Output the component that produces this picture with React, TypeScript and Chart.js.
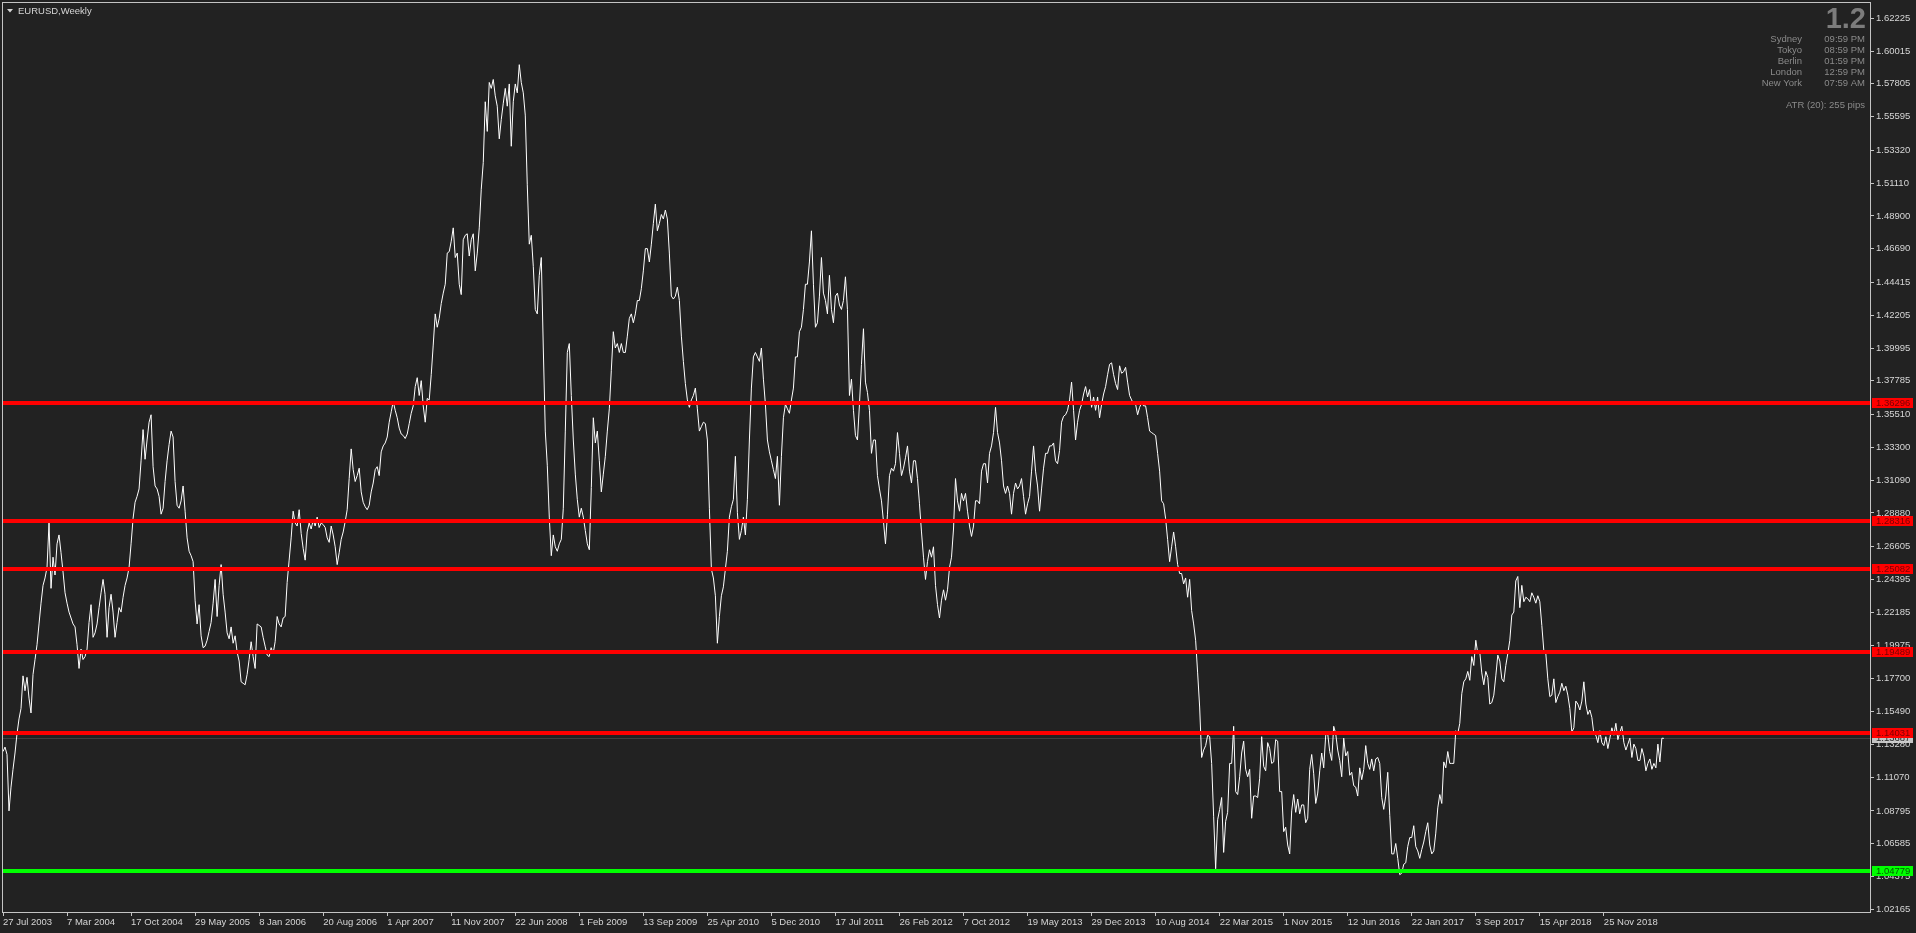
import React, { useEffect, useRef } from 'react';
import { Chart, registerables } from 'chart.js';

Chart.register(...registerables);

// Weekly closes, EURUSD (MT4 line chart), grouped by year
const close2003 = [1.128, 1.131, 1.126, 1.088, 1.104, 1.116, 1.127, 1.140, 1.150, 1.157, 1.179, 1.169, 1.178, 1.164, 1.154, 1.180, 1.190, 1.200, 1.214, 1.228, 1.240, 1.245, 1.252];
const close2004 = [1.282, 1.238, 1.259, 1.247, 1.268, 1.274, 1.262, 1.249, 1.235, 1.228, 1.222, 1.218, 1.214, 1.212, 1.200, 1.184, 1.197, 1.190, 1.192, 1.197, 1.215, 1.227, 1.205, 1.208, 1.214, 1.225, 1.235, 1.244, 1.234, 1.205, 1.225, 1.234, 1.222, 1.205, 1.215, 1.225, 1.222, 1.232, 1.240, 1.245, 1.252, 1.268, 1.285, 1.296, 1.300, 1.305, 1.324, 1.345, 1.325, 1.338, 1.350, 1.355];
const close2005 = [1.320, 1.307, 1.305, 1.300, 1.288, 1.292, 1.310, 1.324, 1.335, 1.344, 1.340, 1.310, 1.294, 1.292, 1.297, 1.307, 1.290, 1.272, 1.263, 1.260, 1.256, 1.230, 1.214, 1.227, 1.206, 1.198, 1.199, 1.203, 1.209, 1.215, 1.228, 1.244, 1.219, 1.240, 1.254, 1.234, 1.222, 1.208, 1.204, 1.212, 1.201, 1.206, 1.195, 1.189, 1.175, 1.174, 1.173, 1.180, 1.190, 1.202, 1.192, 1.184];
const close2006 = [1.214, 1.213, 1.212, 1.205, 1.199, 1.193, 1.192, 1.198, 1.194, 1.202, 1.219, 1.214, 1.212, 1.218, 1.219, 1.242, 1.257, 1.272, 1.290, 1.282, 1.280, 1.291, 1.275, 1.265, 1.257, 1.276, 1.282, 1.278, 1.284, 1.280, 1.286, 1.279, 1.282, 1.281, 1.279, 1.272, 1.269, 1.280, 1.274, 1.266, 1.254, 1.262, 1.271, 1.276, 1.283, 1.291, 1.312, 1.332, 1.318, 1.310, 1.314, 1.319];
const close2007 = [1.303, 1.296, 1.293, 1.291, 1.294, 1.303, 1.309, 1.318, 1.320, 1.314, 1.330, 1.334, 1.336, 1.340, 1.350, 1.357, 1.364, 1.358, 1.353, 1.346, 1.342, 1.341, 1.339, 1.342, 1.349, 1.356, 1.361, 1.374, 1.380, 1.368, 1.378, 1.361, 1.350, 1.366, 1.365, 1.382, 1.402, 1.423, 1.414, 1.420, 1.430, 1.437, 1.443, 1.464, 1.465, 1.472, 1.481, 1.461, 1.464, 1.443, 1.436, 1.473];
const close2008 = [1.476, 1.477, 1.462, 1.473, 1.477, 1.452, 1.464, 1.481, 1.507, 1.525, 1.566, 1.546, 1.579, 1.575, 1.581, 1.570, 1.563, 1.541, 1.554, 1.565, 1.575, 1.563, 1.578, 1.536, 1.566, 1.578, 1.572, 1.591, 1.579, 1.572, 1.557, 1.510, 1.470, 1.476, 1.455, 1.426, 1.423, 1.449, 1.461, 1.400, 1.344, 1.321, 1.286, 1.260, 1.274, 1.266, 1.263, 1.268, 1.271, 1.292, 1.344, 1.397];
const close2009 = [1.403, 1.368, 1.338, 1.315, 1.298, 1.286, 1.292, 1.286, 1.277, 1.268, 1.264, 1.306, 1.353, 1.336, 1.344, 1.324, 1.303, 1.315, 1.327, 1.344, 1.359, 1.385, 1.411, 1.400, 1.403, 1.397, 1.403, 1.397, 1.397, 1.408, 1.420, 1.423, 1.417, 1.423, 1.432, 1.432, 1.440, 1.452, 1.467, 1.467, 1.458, 1.470, 1.484, 1.497, 1.479, 1.484, 1.490, 1.487, 1.493, 1.487, 1.464, 1.435];
const close2010 = [1.433, 1.435, 1.441, 1.432, 1.408, 1.391, 1.376, 1.365, 1.360, 1.365, 1.368, 1.373, 1.359, 1.344, 1.347, 1.350, 1.349, 1.338, 1.292, 1.251, 1.245, 1.233, 1.201, 1.219, 1.233, 1.239, 1.251, 1.263, 1.286, 1.293, 1.298, 1.327, 1.289, 1.271, 1.277, 1.286, 1.274, 1.298, 1.338, 1.373, 1.394, 1.397, 1.394, 1.391, 1.400, 1.379, 1.362, 1.338, 1.330, 1.324, 1.318, 1.312];
const close2011 = [1.327, 1.294, 1.327, 1.353, 1.362, 1.359, 1.356, 1.365, 1.373, 1.394, 1.394, 1.411, 1.414, 1.426, 1.443, 1.443, 1.458, 1.479, 1.443, 1.414, 1.417, 1.435, 1.461, 1.437, 1.432, 1.423, 1.449, 1.426, 1.417, 1.435, 1.437, 1.429, 1.426, 1.432, 1.448, 1.426, 1.368, 1.379, 1.358, 1.341, 1.338, 1.362, 1.389, 1.413, 1.377, 1.370, 1.358, 1.329, 1.338, 1.338, 1.314, 1.305];
const close2012 = [1.297, 1.283, 1.268, 1.288, 1.314, 1.319, 1.317, 1.322, 1.343, 1.329, 1.314, 1.319, 1.326, 1.334, 1.317, 1.309, 1.324, 1.324, 1.312, 1.295, 1.276, 1.259, 1.244, 1.256, 1.264, 1.259, 1.266, 1.240, 1.227, 1.218, 1.230, 1.237, 1.230, 1.237, 1.252, 1.259, 1.278, 1.312, 1.297, 1.290, 1.302, 1.297, 1.302, 1.290, 1.280, 1.273, 1.280, 1.297, 1.297, 1.295, 1.317, 1.322];
const close2013 = [1.322, 1.309, 1.329, 1.334, 1.343, 1.360, 1.343, 1.336, 1.324, 1.307, 1.302, 1.307, 1.302, 1.288, 1.302, 1.309, 1.305, 1.307, 1.312, 1.300, 1.288, 1.295, 1.300, 1.317, 1.334, 1.317, 1.307, 1.290, 1.305, 1.319, 1.329, 1.329, 1.334, 1.334, 1.336, 1.324, 1.322, 1.331, 1.350, 1.354, 1.355, 1.358, 1.365, 1.377, 1.358, 1.338, 1.350, 1.358, 1.362, 1.369, 1.374, 1.367];
const close2014 = [1.372, 1.360, 1.367, 1.358, 1.367, 1.353, 1.362, 1.369, 1.374, 1.382, 1.389, 1.390, 1.382, 1.376, 1.372, 1.388, 1.383, 1.384, 1.387, 1.377, 1.368, 1.365, 1.362, 1.362, 1.355, 1.360, 1.363, 1.361, 1.361, 1.353, 1.344, 1.343, 1.342, 1.341, 1.329, 1.317, 1.297, 1.295, 1.285, 1.271, 1.256, 1.266, 1.276, 1.266, 1.254, 1.248, 1.248, 1.241, 1.245, 1.232, 1.244, 1.223];
const close2015 = [1.214, 1.203, 1.181, 1.158, 1.124, 1.129, 1.132, 1.139, 1.138, 1.120, 1.084, 1.049, 1.082, 1.089, 1.097, 1.060, 1.081, 1.087, 1.120, 1.120, 1.145, 1.101, 1.099, 1.111, 1.127, 1.135, 1.116, 1.111, 1.116, 1.083, 1.098, 1.098, 1.097, 1.110, 1.138, 1.118, 1.115, 1.134, 1.130, 1.120, 1.121, 1.136, 1.135, 1.101, 1.101, 1.074, 1.077, 1.065, 1.059, 1.088, 1.099, 1.087];
const close2016 = [1.096, 1.086, 1.092, 1.092, 1.080, 1.083, 1.116, 1.126, 1.113, 1.093, 1.100, 1.115, 1.127, 1.117, 1.139, 1.140, 1.128, 1.122, 1.145, 1.140, 1.129, 1.122, 1.111, 1.137, 1.125, 1.128, 1.112, 1.114, 1.105, 1.104, 1.098, 1.117, 1.109, 1.116, 1.132, 1.120, 1.116, 1.123, 1.115, 1.123, 1.124, 1.120, 1.097, 1.089, 1.098, 1.114, 1.085, 1.059, 1.059, 1.066, 1.056, 1.045];
const close2017 = [1.046, 1.052, 1.053, 1.064, 1.070, 1.070, 1.078, 1.064, 1.061, 1.056, 1.062, 1.067, 1.074, 1.080, 1.065, 1.059, 1.061, 1.073, 1.090, 1.099, 1.093, 1.121, 1.117, 1.128, 1.120, 1.120, 1.120, 1.142, 1.140, 1.147, 1.167, 1.175, 1.177, 1.182, 1.176, 1.192, 1.186, 1.203, 1.194, 1.195, 1.181, 1.173, 1.182, 1.178, 1.160, 1.161, 1.166, 1.179, 1.193, 1.189, 1.177, 1.175];
const close2018 = [1.186, 1.194, 1.203, 1.220, 1.222, 1.243, 1.246, 1.225, 1.240, 1.229, 1.232, 1.231, 1.229, 1.235, 1.232, 1.228, 1.233, 1.229, 1.213, 1.196, 1.194, 1.177, 1.165, 1.166, 1.177, 1.161, 1.165, 1.168, 1.174, 1.169, 1.172, 1.166, 1.157, 1.141, 1.144, 1.162, 1.160, 1.156, 1.162, 1.175, 1.160, 1.153, 1.156, 1.151, 1.140, 1.139, 1.134, 1.142, 1.134, 1.132, 1.138, 1.130];
const close2019 = [1.137, 1.144, 1.139, 1.147, 1.136, 1.141, 1.145, 1.134, 1.129, 1.133, 1.137, 1.124, 1.133, 1.130, 1.122, 1.122, 1.130, 1.125, 1.115, 1.120, 1.123, 1.116, 1.120, 1.117, 1.133, 1.121, 1.137, 1.13687];

const xTickLabels = ['27 Jul 2003', '7 Mar 2004', '17 Oct 2004', '29 May 2005', '8 Jan 2006', '20 Aug 2006', '1 Apr 2007', '11 Nov 2007', '22 Jun 2008', '1 Feb 2009', '13 Sep 2009', '25 Apr 2010', '5 Dec 2010', '17 Jul 2011', '26 Feb 2012', '7 Oct 2012', '19 May 2013', '29 Dec 2013', '10 Aug 2014', '22 Mar 2015', '1 Nov 2015', '12 Jun 2016', '22 Jan 2017', '3 Sep 2017', '15 Apr 2018', '25 Nov 2018'];
const yTickValues = [1.62225, 1.60015, 1.57805, 1.55595, 1.53320, 1.51110, 1.48900, 1.46690, 1.44415, 1.42205, 1.39995, 1.37785, 1.35510, 1.33300, 1.31090, 1.28880, 1.26605, 1.24395, 1.22185, 1.19975, 1.17700, 1.15490, 1.13280, 1.11070, 1.08795, 1.06585, 1.04375, 1.02165];
const resistanceLevels = [1.36296, 1.28316, 1.25082, 1.19489, 1.14031];
const supportLevels = [1.04779];
const lastPrice = 1.13687;
const sessionCities = ['Sydney', 'Tokyo', 'Berlin', 'London', 'New York'];
const sessionTimes = ['09:59 PM', '08:59 PM', '01:59 PM', '12:59 PM', '07:59 AM'];
const symbolTitle = 'EURUSD,Weekly';
const bigValue = '1.2';
const atrText = 'ATR (20): 255 pips';

const closes = [
  ...close2003, ...close2004, ...close2005, ...close2006, ...close2007, ...close2008,
  ...close2009, ...close2010, ...close2011, ...close2012, ...close2013, ...close2014,
  ...close2015, ...close2016, ...close2017, ...close2018, ...close2019,
];

const MONTHS = ['Jan', 'Feb', 'Mar', 'Apr', 'May', 'Jun', 'Jul', 'Aug', 'Sep', 'Oct', 'Nov', 'Dec'];
const START = Date.UTC(2003, 6, 27);
const TOTAL_WEEKS = 934; // chart width incl. empty right shift
const weekLabels = Array.from({ length: TOTAL_WEEKS }, (_, i) => {
  const d = new Date(START + i * 7 * 86400000);
  return `${d.getUTCDate()} ${MONTHS[d.getUTCMonth()]} ${d.getUTCFullYear()}`;
});

const BG = '#222222';
const FRAME = '#c4c4c4';
const TEXT = '#d6d6d6';
const FONT = "'Liberation Sans', Arial, sans-serif";

const overlayPlugin = {
  id: 'mt4overlay',
  beforeDraw(chart: any) {
    const { ctx, width, height } = chart;
    ctx.save();
    ctx.fillStyle = BG;
    ctx.fillRect(0, 0, width, height);
    const y = Math.round(chart.scales.y.getPixelForValue(lastPrice));
    ctx.fillStyle = '#404040';
    ctx.fillRect(2, y, 1868, 1);
    ctx.fillStyle = '#c4c4c4';
    ctx.fillRect(1872, y - 5, 41, 10);
    ctx.fillStyle = '#2a2a2a';
    ctx.font = `9.5px ${FONT}`;
    ctx.textBaseline = 'middle';
    ctx.textAlign = 'left';
    ctx.fillText(lastPrice.toFixed(5), 1876, y);
    ctx.restore();
  },
  afterDatasetsDraw(chart: any) {
    const { ctx } = chart;
    const ys = chart.scales.y;
    ctx.save();
    resistanceLevels.forEach((v) => {
      const y = Math.round(ys.getPixelForValue(v));
      ctx.fillStyle = '#ff0000';
      ctx.fillRect(2, y - 2, 1868, 4);
    });
    supportLevels.forEach((v) => {
      const y = Math.round(ys.getPixelForValue(v));
      ctx.fillStyle = '#00ff00';
      ctx.fillRect(2, y - 2, 1868, 4);
    });
    ctx.restore();
  },
  afterDraw(chart: any) {
    const { ctx } = chart;
    const ys = chart.scales.y;
    ctx.save();
    // frame
    ctx.strokeStyle = FRAME;
    ctx.lineWidth = 1;
    ctx.strokeRect(2.5, 2.5, 1868, 910);
    // level labels
    ctx.font = `9.5px ${FONT}`;
    ctx.textBaseline = 'middle';
    ctx.textAlign = 'left';
    const drawBox = (v: number, bg: string, fg: string) => {
      const y = Math.round(ys.getPixelForValue(v));
      ctx.fillStyle = bg;
      ctx.fillRect(1872, y - 5, 41, 10);
      ctx.fillStyle = fg;
      ctx.fillText(v.toFixed(5), 1876, y);
    };
    resistanceLevels.forEach((v) => drawBox(v, '#ff0000', '#7a0000'));
    supportLevels.forEach((v) => drawBox(v, '#00ff00', '#005a00'));
    // title
    ctx.fillStyle = TEXT;
    ctx.beginPath();
    ctx.moveTo(7, 9);
    ctx.lineTo(13, 9);
    ctx.lineTo(10, 12.5);
    ctx.closePath();
    ctx.fill();
    ctx.font = `9.5px ${FONT}`;
    ctx.fillText(symbolTitle, 18, 11);
    // big value
    ctx.fillStyle = '#7c7c7c';
    ctx.font = `bold 29px ${FONT}`;
    ctx.textAlign = 'right';
    ctx.textBaseline = 'alphabetic';
    ctx.fillText(bigValue, 1866, 28);
    // sessions
    ctx.font = `9.5px ${FONT}`;
    ctx.textBaseline = 'middle';
    ctx.fillStyle = '#8a8a8a';
    sessionCities.forEach((c, i) => {
      const y = 39 + i * 11;
      ctx.fillText(c, 1802, y);
      ctx.fillText(sessionTimes[i], 1865, y);
    });
    ctx.fillText(atrText, 1865, 105);
    ctx.restore();
  },
};

export default function App() {
  const ref = useRef<HTMLCanvasElement | null>(null);
  useEffect(() => {
    document.body.style.margin = '0';
    document.body.style.background = BG;
    const canvas = ref.current;
    if (!canvas) return;
    const chart = new Chart(canvas, {
      type: 'line',
      data: {
        labels: weekLabels,
        datasets: [
          {
            data: closes,
            borderColor: '#ffffff',
            borderWidth: 1,
            pointRadius: 0,
            tension: 0,
            fill: false,
          },
        ],
      },
      options: {
        animation: false,
        responsive: false,
        maintainAspectRatio: false,
        devicePixelRatio: 1,
        events: [],
        layout: { padding: { left: 3, top: 2, right: 0, bottom: 0 } },
        plugins: {
          legend: { display: false },
          tooltip: { enabled: false },
          title: { display: false },
        },
        scales: {
          x: {
            type: 'category',
            offset: false,
            border: { display: false },
            grid: { drawOnChartArea: false, drawTicks: true, tickLength: 4, tickColor: FRAME, color: FRAME },
            ticks: {
              autoSkip: false,
              maxRotation: 0,
              minRotation: 0,
              align: 'start',
              padding: 1,
              color: TEXT,
              font: { family: FONT, size: 9.5 },
            },
            afterBuildTicks: (scale: any) => {
              scale.ticks = scale.ticks.filter((t: any) => xTickLabels.includes(weekLabels[t.value]));
            },
            afterFit: (scale: any) => {
              scale.height = 21;
              scale.paddingLeft = 0;
              scale.paddingRight = 0;
            },
          },
          y: {
            type: 'linear',
            position: 'right',
            min: 1.01983,
            max: 1.63324,
            border: { display: false },
            grid: { drawOnChartArea: false, drawTicks: true, tickLength: 4, tickColor: FRAME, color: FRAME },
            ticks: {
              padding: 2,
              color: TEXT,
              font: { family: FONT, size: 9.5 },
              callback: (v: any) => Number(v).toFixed(5),
            },
            afterBuildTicks: (scale: any) => {
              scale.ticks = yTickValues.map((v) => ({ value: v }));
            },
            afterFit: (scale: any) => {
              scale.width = 46;
              scale.paddingTop = 0;
              scale.paddingBottom = 0;
            },
          },
        },
      } as any,
      plugins: [overlayPlugin],
    });
    return () => chart.destroy();
  }, []);
  return <canvas ref={ref} width={1916} height={933} style={{ display: 'block', width: 1916, height: 933 }} />;
}
